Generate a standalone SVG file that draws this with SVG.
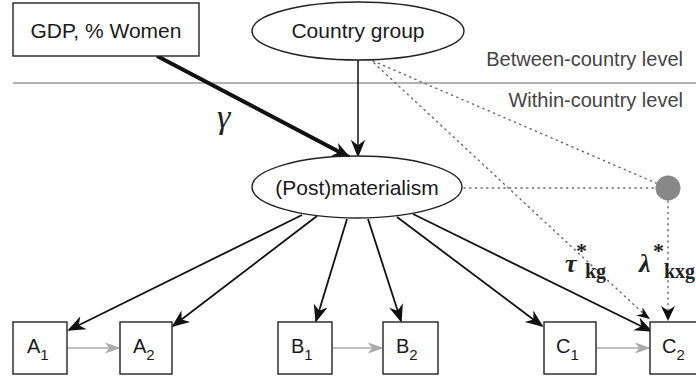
<svg xmlns="http://www.w3.org/2000/svg" width="696" height="381" viewBox="0 0 696 381">
<style>
.sans{font-family:"Liberation Sans",Arial,sans-serif;fill:#1a1a1a}
.node{fill:#fff;stroke:#222;stroke-width:1.4}
.lvl{font-family:"Liberation Sans",Arial,sans-serif;font-size:20px;fill:#444}
.blk{stroke:#111;stroke-width:1.8;fill:none;marker-end:url(#ah2)}
.gry{stroke:#aaa;stroke-width:1.5;fill:none;marker-end:url(#ag)}
.dot{stroke:#666;stroke-width:1.4;fill:none;stroke-dasharray:1.2 4.5;stroke-linecap:round}
.ser{font-family:"Liberation Serif","Times New Roman",serif;fill:#222}
.lab{font-family:"Liberation Sans",Arial,sans-serif;font-size:20px;fill:#1a1a1a}
</style>
<defs>
<marker id="ah2" viewBox="0 0 10 10" refX="9" refY="5" markerWidth="18" markerHeight="18" markerUnits="userSpaceOnUse" orient="auto"><path d="M0,1 L10,5 L0,9 L3,5 z" fill="#111"/></marker>
<marker id="ag" viewBox="0 0 10 10" refX="9" refY="5" markerWidth="16" markerHeight="16" markerUnits="userSpaceOnUse" orient="auto"><path d="M0,1.5 L10,5 L0,8.5 L3,5 z" fill="#aaa"/></marker>
</defs>
<rect width="696" height="381" fill="#fff"/>
<line x1="13" y1="83" x2="696" y2="83" stroke="#999" stroke-width="1.5"/>
<text class="lvl" x="683" y="66" text-anchor="end">Between-country level</text>
<text class="lvl" x="683" y="107" text-anchor="end">Within-country level</text>
<g id="connectors">
<line x1="157" y1="56" x2="349" y2="157" stroke="#111" stroke-width="4" marker-end="url(#ah2)"/>
<line class="blk" x1="358" y1="60" x2="358" y2="156" style="stroke-width:1.5"/>
<line class="blk" x1="302" y1="215" x2="69" y2="330"/>
<line class="blk" x1="317" y1="216" x2="173" y2="326"/>
<line class="blk" x1="347" y1="219" x2="316" y2="321"/>
<line class="blk" x1="368" y1="219" x2="401" y2="321"/>
<line class="blk" x1="397" y1="217" x2="542" y2="326"/>
<line class="blk" x1="413" y1="214" x2="651" y2="331"/>
<line class="gry" x1="67" y1="348" x2="119" y2="348"/>
<line class="gry" x1="332" y1="348" x2="382" y2="348"/>
<line class="gry" x1="596" y1="348" x2="649" y2="348"/>
<line class="dot" x1="464" y1="188" x2="655" y2="188"/>
<line class="dot" x1="373" y1="61" x2="656" y2="183"/>
<line class="dot" x1="374" y1="63" x2="645" y2="315"/>
<path d="M650,319 l-14,-3.5 l6.5,-1.5 l0,-6.5 z" fill="#111"/>
<line class="dot" x1="668" y1="201" x2="668" y2="310"/>
<path d="M668,321 l-7,-15 l7,4.5 l7,-4.5 z" fill="#111"/>
</g>
<g id="gdp"><rect class="node" x="13" y="3" width="186" height="53"/><text class="sans" x="106" y="38" font-size="21" text-anchor="middle">GDP, % Women</text></g>
<g id="country"><ellipse class="node" cx="358" cy="31" rx="106" ry="29"/><text class="sans" x="358" y="38" font-size="21" text-anchor="middle">Country group</text></g>
<g id="post"><ellipse class="node" cx="357" cy="187" rx="105" ry="31"/><text class="sans" x="357" y="195" font-size="21" text-anchor="middle">(Post)materialism</text></g>
<g id="g_circle"><circle cx="668" cy="188" r="12.5" fill="#888"/></g>
<g id="gamma"><text class="ser" x="217" y="128" font-size="34" font-style="italic">γ</text></g>
<g id="tau"><text class="ser" x="565" y="272" font-size="26" font-style="italic" font-weight="bold">τ</text><text class="ser" x="576" y="258" font-size="22" font-weight="bold">*</text><text class="ser" x="585" y="278" font-size="20" font-weight="bold">kg</text></g>
<g id="lambda"><text class="ser" x="639" y="272" font-size="26" font-style="italic" font-weight="bold">λ</text><text class="ser" x="653" y="258" font-size="22" font-weight="bold">*</text><text class="ser" x="664" y="278" font-size="20" font-weight="bold">kxg</text></g>
<g id="A1"><rect class="node" x="13" y="322" width="54" height="52"/><text class="lab" x="27" y="353">A<tspan font-size="15" dy="7">1</tspan></text></g>
<g id="A2"><rect class="node" x="120" y="322" width="52" height="52"/><text class="lab" x="133" y="353">A<tspan font-size="15" dy="7">2</tspan></text></g>
<g id="B1"><rect class="node" x="278" y="322" width="54" height="52"/><text class="lab" x="291" y="353">B<tspan font-size="15" dy="7">1</tspan></text></g>
<g id="B2"><rect class="node" x="383" y="322" width="55" height="52"/><text class="lab" x="396" y="353">B<tspan font-size="15" dy="7">2</tspan></text></g>
<g id="C1"><rect class="node" x="544" y="322" width="52" height="52"/><text class="lab" x="556" y="353">C<tspan font-size="15" dy="7">1</tspan></text></g>
<g id="C2"><rect class="node" x="650" y="322" width="54" height="52"/><text class="lab" x="662" y="353">C<tspan font-size="15" dy="7">2</tspan></text></g>
</svg>
